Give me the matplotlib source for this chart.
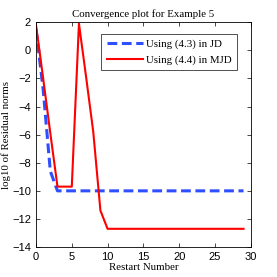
import numpy as np
import matplotlib
matplotlib.use("Agg")
from matplotlib import pyplot as plt

# Data
restarts = list(range(0, 30))
jd_vals = [1.5, -2.8, -8.6, -10.0] + [-10.0] * 26
mjd_vals = [1.8, -2.0, -5.9, -9.7, -9.7, -9.7, 1.9, -1.9, -5.8, -11.4] + [-12.7] * 20
labels = ["Using (4.3) in JD", "Using (4.4) in MJD"]

serif = "Liberation Serif"
plt.rcParams['font.family'] = ["Liberation Sans", "DejaVu Sans"]

fig = plt.figure(figsize=(2.77, 2.77), dpi=100)
ax = fig.add_axes([0.13, 0.108, 0.775, 0.812])

ax.plot(restarts, jd_vals, linestyle='--', color='#2f4fff', linewidth=2.2,
        dashes=(3.2, 1.5), label=labels[0])
ax.plot(restarts, mjd_vals, color='red', linewidth=1.5, label=labels[1])

ax.set_xlim(0, 30)
ax.set_ylim(-14, 2)
ax.set_xticks(np.arange(0, 31, 5))
ax.set_yticks(np.arange(-14, 3, 2))
ax.tick_params(direction='in', top=True, right=True, labelsize=8, length=3, width=0.5)
for s in ax.spines.values():
    s.set_linewidth(0.6)

ax.set_title('Convergence plot for Example 5', family=serif, fontsize=7.8, pad=4)
ax.set_xlabel('Restart Number', family=serif, fontsize=7.8, labelpad=1)
ax.set_ylabel('log10 of Residual norms', family=serif, fontsize=7.8, labelpad=1)

leg = ax.legend(loc='upper right', bbox_to_anchor=(0.936, 0.947), borderaxespad=0,
                prop={'family': serif, 'size': 7.8}, fancybox=False, edgecolor='black',
                handlelength=3.3, handletextpad=0.3, borderpad=0.5, labelspacing=0.5)
leg.get_frame().set_linewidth(0.6)

fig.savefig('out.png', dpi=100)
